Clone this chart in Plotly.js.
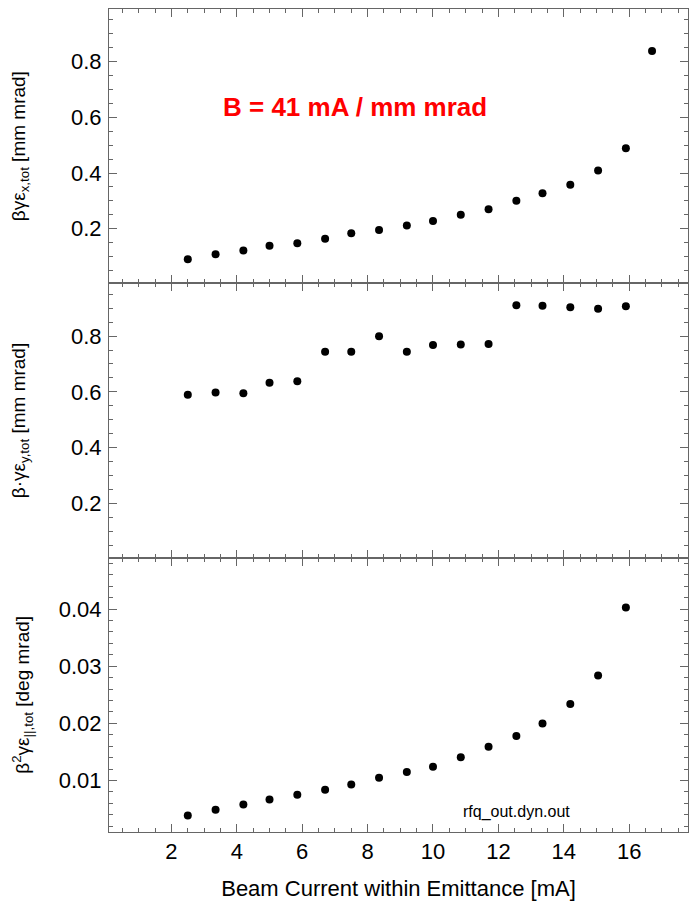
<!DOCTYPE html>
<html>
<head>
<meta charset="utf-8">
<script src="https://cdn.plot.ly/plotly-3.0.1.min.js"></script>
<style>html,body{margin:0;padding:0;background:#fff}#chart{width:690px;height:901px}</style>
</head>
<body>
<div id="chart"></div>
<script>
// Beam current within emittance [mA]
const beamCurrent = [2.5, 3.35, 4.2, 5.0, 5.85, 6.7, 7.5, 8.35, 9.2, 10.0, 10.85, 11.7, 12.55, 13.35, 14.2, 15.05, 15.9, 16.7];
// beta*gamma*eps_x,tot [mm mrad]
const emitX = [0.090, 0.108, 0.122, 0.139, 0.148, 0.164, 0.184, 0.195, 0.212, 0.228, 0.250, 0.270, 0.300, 0.327, 0.358, 0.409, 0.489, 0.838];
// beta*gamma*eps_y,tot [mm mrad]
const emitY = [0.590, 0.598, 0.595, 0.633, 0.638, 0.744, 0.744, 0.799, 0.744, 0.768, 0.770, 0.772, 0.910, 0.909, 0.903, 0.898, 0.907];
// beta^2*gamma*eps_||,tot [deg mrad]
const emitZ = [0.0039, 0.0049, 0.0058, 0.0067, 0.0075, 0.0084, 0.0093, 0.0105, 0.0115, 0.0124, 0.0141, 0.0159, 0.0178, 0.0200, 0.0234, 0.0284, 0.0403];

const xTitle = 'Beam Current within Emittance [mA]';
const yTitleX = 'βγε<sub>x,tot</sub> [mm mrad]';
const yTitleY = 'β·γε<sub>y,tot</sub> [mm mrad]';
const yTitleZ = 'β<sup>2</sup>γε<sub>||,tot</sub> [deg mrad]';
const noteB = 'B = 41 mA / mm mrad';
const noteFile = 'rfq_out.dyn.out';

const FONT = 'Liberation Sans, Arial, sans-serif';
const frameColor = '#666';

const mk = {color: '#000', size: 8};
const traces = [
  {x: beamCurrent.slice(0, emitX.length), y: emitX, xaxis: 'x', yaxis: 'y', mode: 'markers', type: 'scatter', marker: mk, hoverinfo: 'x+y'},
  {x: beamCurrent.slice(0, emitY.length), y: emitY, xaxis: 'x2', yaxis: 'y2', mode: 'markers', type: 'scatter', marker: mk, hoverinfo: 'x+y'},
  {x: beamCurrent.slice(0, emitZ.length), y: emitZ, xaxis: 'x3', yaxis: 'y3', mode: 'markers', type: 'scatter', marker: mk, hoverinfo: 'x+y'}
];

function xAx(anchor, labels, title) {
  const a = {
    anchor: anchor, range: [0.09, 17.8], dtick: 2, tick0: 0,
    ticks: 'inside', ticklen: 8, tickwidth: 1, tickcolor: frameColor,
    minor: {dtick: 0.5, ticks: 'inside', ticklen: 4, tickcolor: frameColor, showgrid: false},
    showline: true, linecolor: frameColor, linewidth: 1, mirror: 'ticks',
    showgrid: false, zeroline: false, showticklabels: labels,
    tickfont: {family: FONT, size: 22, color: '#000'}
  };
  if (anchor !== 'y') a.matches = 'x';
  if (title) a.title = {text: title, font: {family: FONT, size: 22, color: '#000'}, standoff: 18};
  return a;
}
function yAx(anchor, domain, range, dtick, minor, title, standoff) {
  return {
    anchor: anchor, domain: domain, range: range, dtick: dtick, tick0: 0,
    ticks: 'inside', ticklen: 8, tickwidth: 1, tickcolor: frameColor,
    minor: {dtick: minor, ticks: 'inside', ticklen: 4, tickcolor: frameColor, showgrid: false},
    showline: true, linecolor: frameColor, linewidth: 1, mirror: 'ticks',
    showgrid: false, zeroline: false,
    tickfont: {family: FONT, size: 22, color: '#000'},
    ticklabelstandoff: 2,
    title: {text: title, font: {family: FONT, size: 19, color: '#000'}, standoff: standoff}
  };
}

const layout = {
  width: 690, height: 901,
  margin: {l: 109, r: 2, t: 9, b: 69},
  paper_bgcolor: '#fff', plot_bgcolor: '#fff',
  showlegend: false,
  xaxis: xAx('y', false, null),
  xaxis2: xAx('y2', false, null),
  xaxis3: xAx('y3', true, xTitle),
  yaxis: yAx('x', [0.6667, 1], [0.004, 0.989], 0.2, 0.05, yTitleX, 40),
  yaxis2: yAx('x2', [0.3333, 0.6667], [0.006, 0.989], 0.2, 0.05, yTitleY, 40),
  yaxis3: yAx('x3', [0, 0.3333], [0.001, 0.049], 0.01, 0.002, yTitleZ, 24),
  annotations: [
    {text: '<b>' + noteB + '</b>', x: 7.6, y: 0.638, xref: 'x', yref: 'y', showarrow: false,
     font: {family: FONT, size: 26, color: '#ff0000'}},
    {text: noteFile, x: 12.54, y: 0.0045, xref: 'x3', yref: 'y3', showarrow: false,
     font: {family: FONT, size: 16, color: '#000'}}
  ]
};

Plotly.newPlot('chart', traces, layout, {displayModeBar: false, staticPlot: true});
</script>
</body>
</html>
